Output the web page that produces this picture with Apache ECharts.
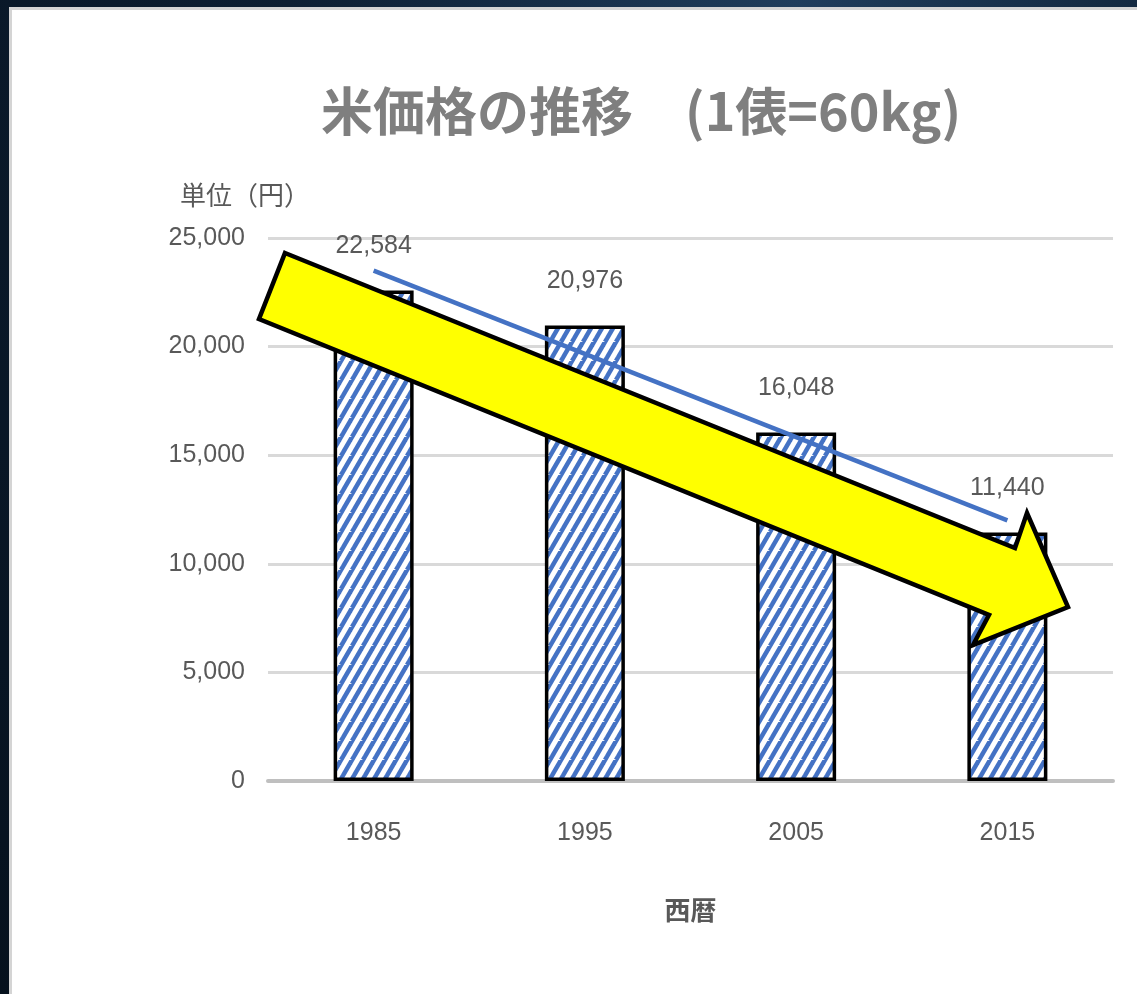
<!DOCTYPE html>
<html>
<head>
<meta charset="utf-8">
<script src="https://cdn.jsdelivr.net/npm/echarts@6/dist/echarts.min.js"></script>
<style>
    html, body {
        margin: 0;
        padding: 0;
        width: 1137px;
        height: 994px;
        overflow: hidden;
        background: radial-gradient(ellipse at 70% 0%, #1f3d5c 0%, #0d1f33 45%, #06111d 100%);
    }

    .panel {
        position: absolute;
        left: 9px;
        top: 7px;
        right: 0;
        bottom: 0;
        background-color: #fff;
        border-left: 3px solid #d4d4d4;
        border-top: 3px solid #d4d4d4;
    }

    #riceChart {
        position: absolute;
        left: 0;
        top: 0;
        width: 1137px;
        height: 994px;
    }
</style>
</head>
<body>
<div class="panel"></div>
<div id="riceChart"></div>
<script type="text/javascript">
    // 西暦ごとの米価格（1俵=60kg）
    var years = ['1985', '1995', '2005', '2015'];
    var prices = [22584, 20976, 16048, 11440];
    // 近似直線（両端の値を図から読み取り）
    var trendValues = [23500, '-', '-', 12000];
    var yTicks = [0, 5000, 10000, 15000, 20000, 25000];

    var numFont = '"Liberation Sans", "Noto Sans CJK JP", sans-serif';
    var jpFont = '"Noto Sans CJK JP", sans-serif';

    // 斜線のハッチング（x/w + y/h = n の直線）
    function makeStripe() {
        var w = 11, h = 19;
        var c = document.createElement('canvas');
        c.width = w;
        c.height = h;
        var ctx = c.getContext('2d');
        ctx.fillStyle = '#ffffff';
        ctx.fillRect(0, 0, w, h);
        ctx.strokeStyle = '#4472c4';
        ctx.lineWidth = 4.5;
        for (var n = 0; n <= 2; n++) {
            ctx.beginPath();
            ctx.moveTo((n - 1) * w, h);
            ctx.lineTo((n + 1) * w, -h);
            ctx.stroke();
        }
        return c;
    }

    var myChart = echarts.init(document.getElementById('riceChart'));

    myChart.setOption({
        backgroundColor: 'transparent',
        title: {
            text: '米価格の推移　(1俵=60kg)',
            left: 316,
            top: 80,
            textStyle: {
                fontFamily: jpFont,
                fontSize: 52,
                fontWeight: 'bold',
                color: '#7f7f7f'
            }
        },
        grid: {
            left: 268,
            right: 24,
            top: 238,
            bottom: 213
        },
        xAxis: {
            type: 'category',
            data: years,
            name: '西暦',
            nameLocation: 'middle',
            nameGap: 116,
            nameTextStyle: {
                fontFamily: jpFont,
                fontSize: 26,
                fontWeight: 'bold',
                color: '#595959'
            },
            axisTick: { show: false },
            axisLine: { lineStyle: { color: '#bfbfbf', width: 4 } },
            axisLabel: {
                margin: 40,
                fontFamily: numFont,
                fontSize: 25,
                color: '#595959'
            }
        },
        yAxis: {
            type: 'value',
            min: yTicks[0],
            max: yTicks[yTicks.length - 1],
            interval: 5000,
            name: '単位（円）',
            nameLocation: 'end',
            nameGap: 30,
            nameTextStyle: {
                fontFamily: jpFont,
                fontSize: 26,
                fontWeight: 'normal',
                color: '#595959',
                align: 'left',
                padding: [0, 0, 0, -88]
            },
            axisLine: { show: false },
            axisTick: { show: false },
            splitLine: { lineStyle: { color: '#d9d9d9', width: 3 } },
            axisLabel: {
                margin: 23,
                fontFamily: numFont,
                fontSize: 25,
                color: '#595959',
                formatter: function (v) {
                    return v.toLocaleString('en-US');
                }
            }
        },
        series: [
            {
                name: '米価格',
                type: 'bar',
                data: prices,
                barWidth: 80,
                itemStyle: {
                    color: { image: makeStripe(), repeat: 'repeat' },
                    borderColor: '#000',
                    borderWidth: 3.5
                },
                label: {
                    show: true,
                    position: 'top',
                    distance: 32,
                    fontFamily: numFont,
                    fontSize: 25,
                    color: '#595959',
                    formatter: function (p) {
                        return p.value.toLocaleString('en-US');
                    }
                }
            },
            {
                name: '近似直線',
                type: 'line',
                data: trendValues,
                connectNulls: true,
                symbol: 'none',
                z: 5,
                lineStyle: { color: '#4472c4', width: 4.5 }
            }
        ],
        graphic: [
            {
                type: 'polygon',
                z: 100,
                shape: {
                    points: [[285, 253], [1015, 548], [1027, 513], [1068, 607],
                             [973, 645], [989, 615], [259, 319]]
                },
                style: {
                    fill: '#ffff00',
                    stroke: '#000',
                    lineWidth: 4.5,
                    lineJoin: 'miter'
                }
            }
        ]
    });
</script>
</body>
</html>
